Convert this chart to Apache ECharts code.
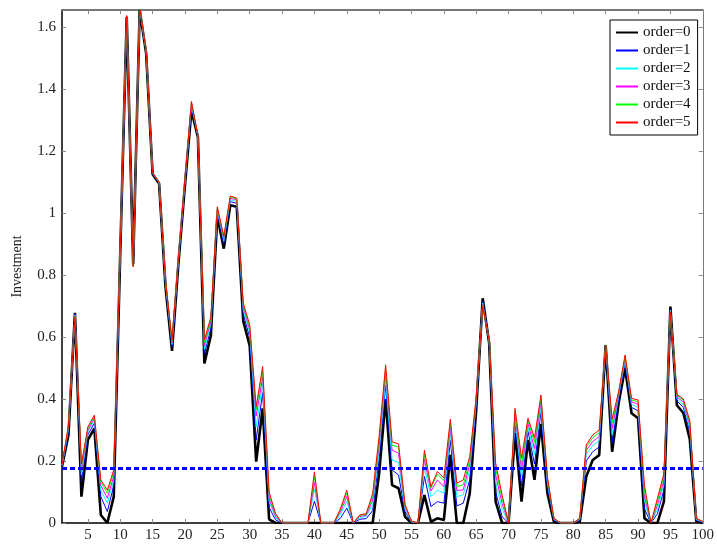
<!DOCTYPE html>
<html>
<head>
<meta charset="utf-8">
<script src="https://cdn.jsdelivr.net/npm/echarts@6/dist/echarts.min.js"></script>
<style>html,body{margin:0;padding:0;background:#fff}#c{width:717px;height:545px}</style>
</head>
<body>
<div id="c"></div>
<script>
const xTickValues = [5,10,15,20,25,30,35,40,45,50,55,60,65,70,75,80,85,90,95,100];
const yTickValues = [0,0.2,0.4,0.6,0.8,1,1.2,1.4,1.6];
const seriesNames = ['order=0','order=1','order=2','order=3','order=4','order=5'];
const threshold = 0.176;

const order0 = [
0.182,0.284,0.678,0.085,0.268,0.305,0.026,0.0,0.085,0.87,
1.632,0.836,1.655,1.515,1.125,1.095,0.76,0.555,0.84,1.09,
1.33,1.245,0.515,0.605,0.99,0.885,1.025,1.02,0.652,0.572,
0.198,0.37,0.012,0,0,0,0,0,0,0,
0,0,0,0,0,0,0,0,0,0.16,
0.4,0.122,0.112,0.02,0,0,0.09,0.004,0.015,0.01,
0.22,0,0,0.096,0.365,0.725,0.58,0.069,0,0,
0.29,0.069,0.268,0.139,0.32,0.096,0.004,0,0,0,
0.004,0.15,0.203,0.219,0.574,0.23,0.386,0.5,0.354,0.338,
0.015,0,0,0.07,0.698,0.38,0.355,0.27,0.005,0];

const order1 = [
0.184,0.297,0.675,0.133,0.285,0.322,0.085,0.037,0.12,0.878,
1.633,0.833,1.657,1.519,1.127,1.097,0.768,0.569,0.848,1.098,
1.342,1.247,0.545,0.629,1.002,0.901,1.037,1.031,0.675,0.599,
0.268,0.42,0.05,0.01,0,0,0,0,0,0.07,
0,0,0,0.015,0.048,0,0.012,0.014,0.04,0.208,
0.444,0.171,0.155,0.036,0.002,0,0.15,0.053,0.069,0.064,
0.266,0.055,0.064,0.14,0.382,0.715,0.584,0.1,0.02,0,
0.322,0.12,0.296,0.19,0.357,0.118,0.009,0,0,0,
0.009,0.2,0.23,0.245,0.574,0.257,0.401,0.517,0.373,0.362,
0.045,0,0.03,0.106,0.691,0.394,0.373,0.294,0.009,0.002];

const order2 = [
0.185,0.303,0.672,0.155,0.295,0.331,0.105,0.064,0.137,0.882,
1.634,0.831,1.659,1.521,1.128,1.098,0.772,0.576,0.852,1.102,
1.348,1.248,0.56,0.641,1.008,0.909,1.043,1.037,0.687,0.613,
0.31,0.45,0.07,0.017,0,0,0,0,0,0.11,
0,0,0,0.027,0.07,0,0.018,0.021,0.06,0.232,
0.466,0.203,0.195,0.044,0.003,0,0.18,0.085,0.106,0.096,
0.29,0.085,0.091,0.172,0.39,0.71,0.586,0.13,0.045,0,
0.338,0.15,0.31,0.22,0.376,0.128,0.011,0,0,0,
0.011,0.222,0.25,0.266,0.574,0.285,0.409,0.525,0.383,0.373,
0.07,0,0.045,0.124,0.687,0.401,0.382,0.306,0.011,0.003];

const order3 = [
0.186,0.309,0.67,0.17,0.30,0.338,0.12,0.08,0.151,0.885,
1.635,0.83,1.661,1.523,1.129,1.099,0.775,0.582,0.855,1.105,
1.353,1.249,0.573,0.651,1.013,0.916,1.048,1.042,0.697,0.624,
0.345,0.47,0.08,0.022,0,0,0,0,0,0.13,
0,0,0,0.035,0.085,0,0.021,0.025,0.074,0.252,
0.485,0.235,0.225,0.051,0.004,0,0.205,0.103,0.139,0.117,
0.308,0.105,0.107,0.19,0.397,0.706,0.588,0.155,0.063,0,
0.352,0.17,0.322,0.24,0.392,0.138,0.013,0,0,0,
0.013,0.235,0.263,0.279,0.574,0.305,0.415,0.532,0.391,0.383,
0.085,0,0.058,0.139,0.684,0.407,0.39,0.316,0.013,0.004];

const order4 = [
0.187,0.313,0.668,0.18,0.306,0.344,0.132,0.096,0.163,0.888,
1.636,0.828,1.663,1.524,1.13,1.1,0.778,0.587,0.858,1.108,
1.357,1.25,0.583,0.659,1.017,0.921,1.052,1.045,0.704,0.633,
0.365,0.49,0.09,0.027,0,0,0,0,0,0.15,
0,0,0,0.041,0.097,0,0.024,0.028,0.085,0.268,
0.499,0.251,0.245,0.056,0.005,0,0.222,0.112,0.158,0.137,
0.324,0.118,0.123,0.203,0.403,0.703,0.589,0.176,0.078,0,
0.362,0.19,0.331,0.26,0.404,0.145,0.015,0,0,0,
0.015,0.245,0.275,0.291,0.574,0.322,0.42,0.538,0.397,0.391,
0.1,0,0.07,0.151,0.682,0.412,0.396,0.324,0.014,0.005];

const order5 = [
0.188,0.316,0.665,0.19,0.31,0.348,0.139,0.106,0.171,0.89,
1.637,0.827,1.665,1.525,1.13,1.1,0.78,0.59,0.86,1.11,
1.36,1.25,0.59,0.665,1.02,0.925,1.055,1.048,0.71,0.64,
0.375,0.505,0.1,0.03,0,0,0,0,0,0.165,
0,0,0,0.045,0.106,0,0.026,0.03,0.095,0.28,
0.51,0.262,0.255,0.06,0.006,0,0.235,0.117,0.166,0.145,
0.335,0.128,0.139,0.215,0.407,0.70,0.59,0.193,0.09,0,
0.37,0.21,0.338,0.274,0.413,0.15,0.016,0,0,0,
0.016,0.252,0.284,0.3,0.574,0.335,0.424,0.542,0.402,0.397,
0.12,0,0.08,0.16,0.68,0.415,0.40,0.33,0.015,0.005];

const allSeries = [order0, order1, order2, order3, order4, order5];
const colors = ['#000000','#0000ff','#00ffff','#ff00ff','#00ff00','#ff0000'];
const widths = [2.6, 1, 1, 1, 1, 1];
const FONT = 'Liberation Serif';

const chart = echarts.init(document.getElementById('c'), null, {renderer: 'canvas'});

const lineSeries = allSeries.map((arr, k) => ({
  name: seriesNames[k],
  type: 'line',
  symbol: 'none',
  z: 3 + k,
  lineStyle: {color: colors[k], width: widths[k]},
  itemStyle: {color: colors[k]},
  data: arr.map((v, i) => [i + 1, v])
}));

lineSeries.push({
  name: 'threshold',
  type: 'line',
  symbol: 'none',
  z: 20,
  lineStyle: {color: '#0000ff', width: 3, type: [5, 3]},
  data: [[1, threshold], [100, threshold]]
});

const tickStyle = {color: '#888', width: 1};

chart.setOption({
  animation: false,
  backgroundColor: '#fff',
  grid: {left: 62, right: 9, top: 10, bottom: 22, containLabel: false},
  legend: {
    data: seriesNames,
    orient: 'vertical',
    left: 610,
    top: 20,
    backgroundColor: '#fff',
    borderColor: '#000',
    borderWidth: 1,
    borderRadius: 0,
    padding: [5, 7, 5, 5],
    itemWidth: 22,
    itemHeight: 14,
    itemGap: 3,
    itemStyle: {opacity: 0},
    textStyle: {fontFamily: FONT, fontSize: 15, color: '#111'}
  },
  xAxis: [{
    type: 'value', min: 1, max: 100, position: 'bottom',
    axisLine: {show: true, onZero: false, lineStyle: {color: '#000', width: 1.5}},
    axisTick: {show: true, inside: true, length: 4, customValues: xTickValues, lineStyle: tickStyle},
    axisLabel: {customValues: xTickValues, color: '#222', fontFamily: FONT, fontSize: 15, margin: 5},
    splitLine: {show: false}
  }, {
    type: 'value', min: 1, max: 100, position: 'top',
    axisLine: {show: true, onZero: false, lineStyle: {color: '#777', width: 2}},
    axisTick: {show: true, inside: true, length: 4, customValues: xTickValues, lineStyle: tickStyle},
    axisLabel: {show: false},
    splitLine: {show: false}
  }],
  yAxis: [{
    type: 'value', min: 0, max: 1.655, position: 'left',
    name: 'Investment', nameLocation: 'middle', nameRotate: 90, nameGap: 38,
    nameTextStyle: {fontFamily: FONT, fontSize: 14, color: '#222'},
    axisLine: {show: true, onZero: false, lineStyle: {color: '#000', width: 1.5}},
    axisTick: {show: true, inside: true, length: 4, customValues: yTickValues, lineStyle: tickStyle},
    axisLabel: {customValues: yTickValues, color: '#222', fontFamily: FONT, fontSize: 15, margin: 6,
      formatter: v => String(Math.round(v * 10) / 10)},
    splitLine: {show: false}
  }, {
    type: 'value', min: 0, max: 1.655, position: 'right',
    axisLine: {show: true, onZero: false, lineStyle: {color: '#777', width: 1}},
    axisTick: {show: true, inside: true, length: 4, customValues: yTickValues, lineStyle: tickStyle},
    axisLabel: {show: false},
    splitLine: {show: false}
  }],
  series: lineSeries
});
</script>
</body>
</html>
